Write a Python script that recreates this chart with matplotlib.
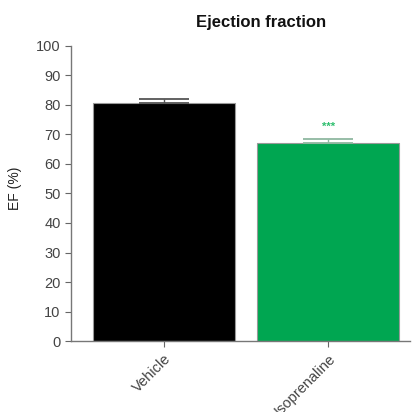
import matplotlib
matplotlib.use("Agg")
import matplotlib.pyplot as plt

plt.rcParams['font.family'] = ['Liberation Sans', 'DejaVu Sans']

# Ejection fraction per group
groups = ['Vehicle', 'Isoprenaline']
ef_mean = [80.6, 67.0]
ef_sem = [1.4, 1.5]
bar_colors = ['#000000', '#00a651']
err_colors = ['#555555', '#8fb8a0']
sig_labels = ['', '***']

fig = plt.figure(figsize=(4.13, 4.12), dpi=100)
ax = fig.add_axes([0.172, 0.172, 0.821, 0.717])

for i in range(len(groups)):
    ax.bar(i, ef_mean[i], width=0.866, color=bar_colors[i],
           edgecolor='#999999', linewidth=0.8, zorder=2)
    ax.errorbar(i, ef_mean[i], yerr=[[0], [ef_sem[i]]], fmt='none',
                ecolor=err_colors[i], elinewidth=1.0, capsize=18,
                capthick=1.3, zorder=3)
    if sig_labels[i]:
        ax.text(i, ef_mean[i] + ef_sem[i] + 2.5, sig_labels[i],
                ha='center', va='bottom', color='#2fbf6f', fontsize=8,
                fontweight='bold')

ax.set_xlim(-0.567, 1.5)
ax.set_ylim(0, 100)
ax.set_yticks(range(0, 101, 10))
ax.set_xticks(range(len(groups)))
ax.set_xticklabels(groups, rotation=45, ha='right', rotation_mode='anchor',
                   fontsize=10.5, color='#444444')
ax.tick_params(axis='y', labelsize=10.5, labelcolor='#444444', length=4,
               color='#666666')
ax.tick_params(axis='x', length=4, color='#666666')

for side in ['top', 'right']:
    ax.spines[side].set_visible(False)
for side in ['left', 'bottom']:
    ax.spines[side].set_color('#777777')
    ax.spines[side].set_linewidth(1.0)

fig.text(15 / 413, 1 - 188 / 412, 'EF (%)', rotation=90, ha='center',
         va='center', fontsize=10, color='#222222')
fig.text(261 / 413, 1 - 22 / 412, 'Ejection fraction', ha='center',
         va='center', fontsize=12, fontweight='bold', color='#111111')

fig.savefig('out.png', dpi=100)
